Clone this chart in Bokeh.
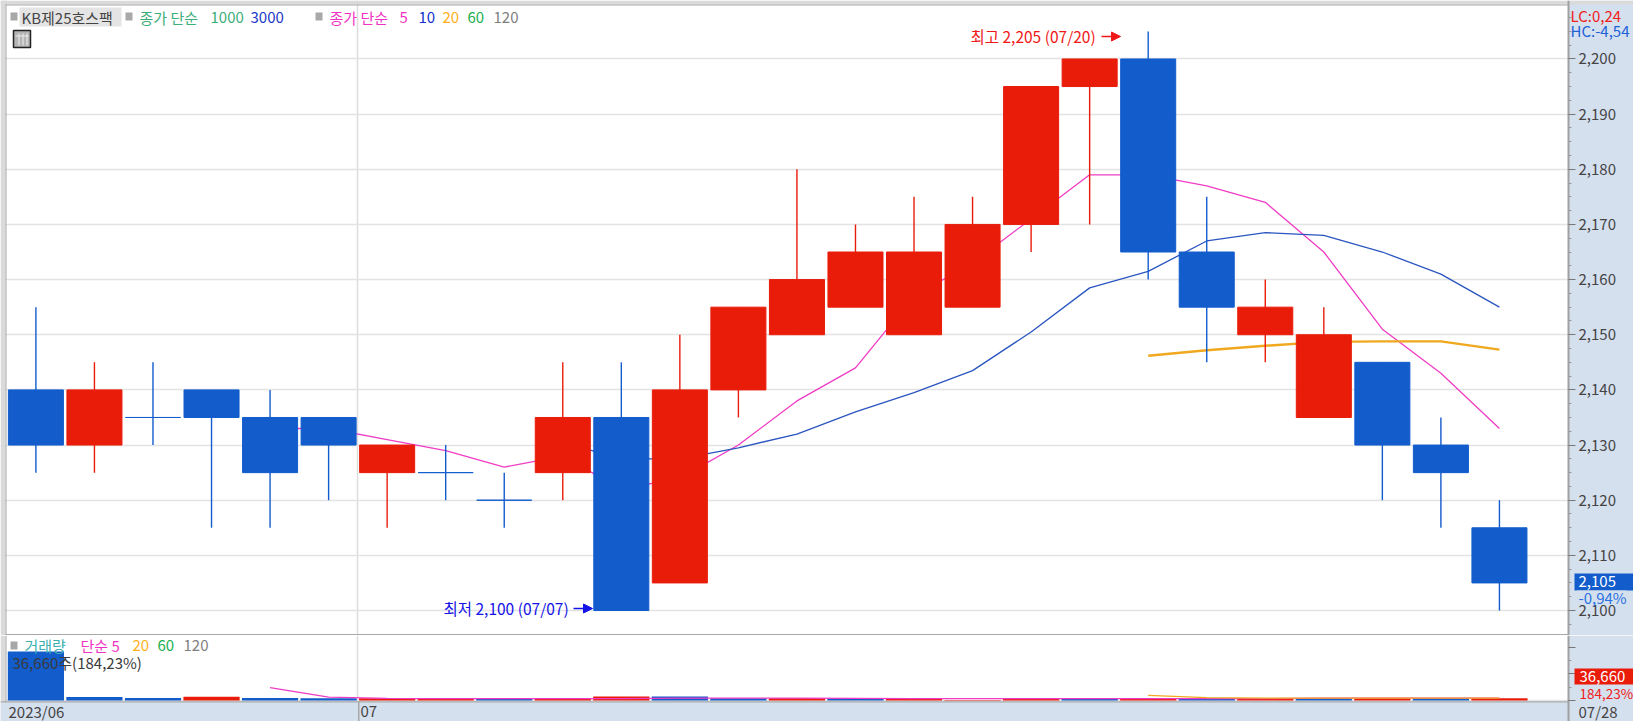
from bokeh.plotting import figure
from bokeh.layouts import column
from bokeh.models import (Label, BoxAnnotation, Arrow, NormalHead, Range1d, FixedTicker,
                          NumeralTickFormatter, ColumnDataSource)
from bokeh.embed import file_html
from bokeh.resources import INLINE

# ---- data -------------------------------------------------------------
opens  = [2140, 2130, 2135, 2140, 2135, 2135, 2125, 2125, 2120, 2125, 2135, 2105, 2140,
          2150, 2155, 2150, 2155, 2170, 2195, 2200, 2165, 2150, 2135, 2145, 2130, 2115]
closes = [2130, 2140, 2135, 2135, 2125, 2130, 2130, 2125, 2120, 2135, 2100, 2140, 2155,
          2160, 2165, 2165, 2170, 2195, 2200, 2165, 2155, 2155, 2150, 2130, 2125, 2105]
highs  = [2155, 2145, 2145, 2140, 2140, 2135, 2130, 2130, 2125, 2145, 2145, 2150, 2155,
          2180, 2170, 2175, 2175, 2195, 2200, 2205, 2175, 2160, 2155, 2145, 2135, 2120]
lows   = [2125, 2125, 2130, 2115, 2115, 2120, 2115, 2120, 2115, 2120, 2100, 2105, 2135,
          2150, 2155, 2150, 2155, 2165, 2170, 2160, 2145, 2145, 2135, 2120, 2115, 2100]
is_up  = [0, 1, 0, 0, 0, 0, 1, 0, 0, 1, 0, 1, 1, 1, 1, 1, 1, 1, 1, 0, 0, 1, 1, 0, 0, 0]

ma5_x  = list(range(4, 26))
ma5    = [2133, 2133, 2131, 2129, 2126, 2128, 2122, 2124, 2130, 2138, 2144, 2157, 2163,
          2171, 2179, 2179, 2177, 2174, 2165, 2151, 2143, 2133]
ma10_x = list(range(9, 26))
ma10   = [2130.5, 2127.5, 2127.5, 2129.5, 2132, 2136, 2139.5, 2143.5, 2150.5, 2158.5,
          2161.5, 2167, 2168.5, 2168, 2165, 2161, 2155]
ma20_x = list(range(19, 26))
ma20   = [2146.2, 2147.2, 2148, 2148.7, 2148.8, 2148.8, 2147.3]

volumes = [882000, 62000, 46000, 66000, 46000, 42000, 42000, 42000, 42000, 42000, 72000, 72000,
           42000, 42000, 42000, 42000, 10000, 42000, 42000, 42000, 42000, 42000, 42000, 42000,
           42000, 42000]
vol_up  = [0, 0, 0, 1, 0, 0, 1, 1, 0, 1, 1, 0, 0, 1, 0, 1, 1, 1, 0, 1, 0, 1, 0, 1, 0, 1]
vol5_x  = list(range(4, 26))
vol5    = [232000, 60000, 38000, 34000, 32000, 32000, 34000, 42000, 44000, 44000, 40000, 34000,
           32000, 32000, 32000, 32000, 32000, 32000, 42000, 42000, 42000, 42000]
vol20_x = list(range(19, 26))
vol20   = [94000, 52000, 44000, 44000, 44000, 44000, 44000]
vol_major = [0, 480000, 960000]
vol_minor = [240000, 720000]

price_major = [2100, 2110, 2120, 2130, 2140, 2150, 2160, 2170, 2180, 2190, 2200]
price_minor = [2097.5, 2102.5, 2105, 2107.5, 2112.5, 2115, 2117.5, 2122.5, 2125, 2127.5, 2132.5,
               2135, 2137.5, 2142.5, 2145, 2147.5, 2152.5, 2155, 2157.5, 2162.5, 2165, 2167.5,
               2172.5, 2175, 2177.5, 2182.5, 2185, 2187.5, 2192.5, 2195, 2197.5, 2202.5, 2205,
               2207.5]
month_x = 5.5

RED, BLUE = "#E91C0A", "#125CCC"
AXIS_BG = "#D5E0EF"
FONT = "Noto Sans CJK KR"
W, H_MAIN, H_VOL = 1633, 635, 86
col = [RED if u else BLUE for u in is_up]
vcol = [RED if u else BLUE for u in vol_up]
bar_w = 0.94
axis_x = 26.18

# ---- figures: frames span the whole canvas ------------------------------
x_range = Range1d(-0.6047, 27.29)
common = dict(width=W, x_range=x_range, x_axis_location=None, y_axis_location="right",
              toolbar_location=None, output_backend="svg", min_border=0,
              min_border_left=0, min_border_right=0, min_border_top=0, min_border_bottom=0,
              outline_line_color=None, background_fill_color="#FFFFFF", border_fill_color=AXIS_BG)
p = figure(height=H_MAIN, y_range=Range1d(2095.47, 2210.6), **common)
v = figure(height=H_VOL, y_range=Range1d(-378000, 1170000), **common)

for f in (p, v):
    f.xgrid.ticker = FixedTicker(ticks=[month_x])
    f.xgrid.grid_line_color = "#DDDDDD"
    f.xgrid.grid_line_width = 1.5
    f.ygrid.grid_line_color = "#E3E3E3"
    f.ygrid.grid_line_width = 1.5
    ax = f.yaxis[0]
    ax.fixed_location = axis_x
    ax.axis_line_color = "#A0A0A0"
    ax.axis_line_width = 2
    ax.major_tick_line_color = "#777777"
    ax.minor_tick_line_color = "#999999"
    ax.major_tick_in = 0
    ax.major_tick_out = 7
    ax.minor_tick_in = 0
    ax.minor_tick_out = 3

ax = p.yaxis[0]
ax.ticker = FixedTicker(ticks=price_major, minor_ticks=price_minor)
ax.formatter = NumeralTickFormatter(format="0,0")
ax.major_label_standoff = 3
ax.major_label_text_font = FONT
ax.major_label_text_font_size = "15px"
ax.major_label_text_color = "#444444"

vax = v.yaxis[0]
vax.ticker = FixedTicker(ticks=vol_major, minor_ticks=vol_minor)
vax.major_label_overrides = {t: "" for t in vol_major}
v.ygrid.ticker = FixedTicker(ticks=[0])


def txt(f, x, y, s, color, size=15, top=0, bg=None, align="left"):
    f.add_layout(Label(x=x, y=y - top, x_units="canvas", y_units="canvas", text=s,
                       text_color=color, text_font=FONT, text_font_size=f"{size}px",
                       text_baseline="middle", text_align=align, background_fill_color=bg))


def box(f, l, r, t, b, fill, line=None, top=0, level="annotation"):
    f.add_layout(BoxAnnotation(left=l, right=r, top=t - top, bottom=b - top,
                               left_units="canvas", right_units="canvas",
                               top_units="canvas", bottom_units="canvas",
                               fill_color=fill, fill_alpha=1, line_color=line,
                               line_alpha=1 if line else 0, line_width=1.5, level=level))


# chrome (under the marks, over the grid)
GREY = "#DADADA"
EDGE = "#A8A8A8"
for f, top, h in ((p, 0, H_MAIN), (v, 635, H_VOL)):
    box(f, 1568, W, top + h, top, AXIS_BG, top=top, level="underlay")
    box(f, 0, 5, top + h, top, GREY, top=top, level="underlay")
    box(f, 5, 6, top + h, top, EDGE, top=top, level="underlay")
box(p, 0, W, 4, 0, GREY, level="underlay")
box(p, 5, 1568, 5, 4, EDGE, level="underlay")
box(p, 5, 1568, 635, 633.5, EDGE, level="underlay")
box(v, 0, W, 721, 701, AXIS_BG, top=635, level="underlay")
box(v, 0, 1568, 702, 700.7, EDGE, top=635, level="underlay")
box(v, 357.5, 359, 721, 701, EDGE, top=635, level="underlay")

# ---- marks ------------------------------------------------------------
xs = list(range(len(opens)))
src = ColumnDataSource(dict(x=xs, o=opens, c=closes, h=highs, l=lows, col=col, vol=volumes, vcol=vcol))
p.line(ma5_x, ma5, line_color="#F03CC4", line_width=1.3)
p.line(ma10_x, ma10, line_color="#2A55C0", line_width=1.3)
p.line(ma20_x, ma20, line_color="#F0A81E", line_width=2.4)
p.segment("x", "h", "x", "l", source=src, line_color="col", line_width=1.4)
p.vbar("x", bar_w, "o", "c", source=src, fill_color="col", line_color="col", line_width=1)

v.vbar("x", 0.96, 0, "vol", source=src, fill_color="vcol", line_color=None)
v.line(vol5_x, vol5, line_color="#F03CC4", line_width=1.3)
v.line(vol20_x, vol20, line_color="#F0A81E", line_width=1.3)

# legend row, main panel
box(p, 10, 17, 20, 12, "#A8A8A8")
box(p, 19, 121, 26, 7, "#E4E4E4")
txt(p, 21, 17, "KB제25호스팩", "#444444")
box(p, 125, 132, 20, 12, "#A8A8A8")
txt(p, 139, 17, "종가 단순", "#3CAE78")
txt(p, 210, 17, "1000", "#3CAE78")
txt(p, 250, 17, "3000", "#2038C8")
box(p, 315, 322, 20, 12, "#A8A8A8")
txt(p, 329, 17, "종가 단순", "#F032C4")
txt(p, 399, 17, "5", "#F032C4")
txt(p, 418, 17, "10", "#1030D0")
txt(p, 442, 17, "20", "#FFB020")
txt(p, 467, 17, "60", "#20B050")
txt(p, 493, 17, "120", "#808080")

# table icon
box(p, 13, 30, 47, 30, "#B4B4B4", line="#222222")
for gx in (18, 22, 26):
    box(p, gx, gx + 1, 45, 33, "#EEEEEE")
box(p, 15, 28, 36, 35, "#EEEEEE")

# high / low callouts
txt(p, 970, 35, "최고 2,205 (07/20)", "#F01818", size=15.5)
txt(p, 443, 607, "최저 2,100 (07/07)", "#1414E8", size=15.5)
p.add_layout(Arrow(x_start=1101, x_end=1120, y_start=36, y_end=36,
                   start_units="canvas", end_units="canvas",
                   line_color="#F01818", line_width=1.5,
                   end=NormalHead(size=9, fill_color="#F01818", line_color="#F01818")))
p.add_layout(Arrow(x_start=573, x_end=592, y_start=608, y_end=608,
                   start_units="canvas", end_units="canvas",
                   line_color="#1414E8", line_width=1.5,
                   end=NormalHead(size=9, fill_color="#1414E8", line_color="#1414E8")))

# right column
txt(p, 1570, 15, "LC:0,24", "#F02020")
txt(p, 1570, 30, "HC:-4,54", "#2060D8")
box(p, 1574, W, 590, 573, BLUE)
txt(p, 1578, 581, "2,105", "#FFFFFF")
box(p, 1576, 1626, 604, 590, AXIS_BG)
txt(p, 1578, 597, "-0,94%", "#2A72E0")

# volume panel texts
box(v, 10, 17, 649, 641, "#A8A8A8", top=635)
txt(v, 24, 645, "거래량", "#3CB0B0", top=635)
txt(v, 80, 645, "단순 5", "#F032C4", top=635)
txt(v, 132, 645, "20", "#FFB020", top=635)
txt(v, 157, 645, "60", "#20B050", top=635)
txt(v, 183, 645, "120", "#808080", top=635)
txt(v, 12, 662, "36,660주(184,23%)", "#3A3A3A", top=635)
box(v, 1574, W, 684, 668, RED, top=635)
txt(v, 1579, 676, "36,660", "#FFFFFF", top=635)
txt(v, 1579, 692, "184,23%", "#F02020", size=13.5, top=635)

# bottom strip
txt(v, 8, 711, "2023/06", "#444444", top=635)
txt(v, 360, 711, "07", "#444444", top=635)
txt(v, 1578, 711, "07/28", "#444444", top=635)

page = column(p, v, spacing=0)
open("out.html", "w").write(file_html(page, INLINE))
